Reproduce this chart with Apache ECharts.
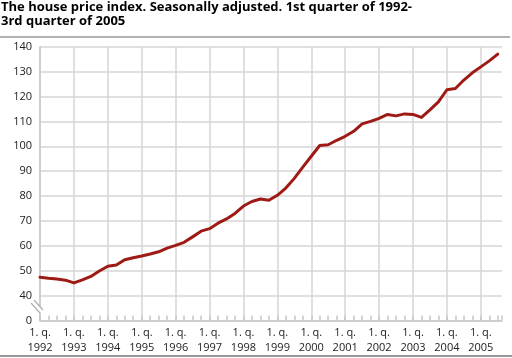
<!DOCTYPE html>
<html>
<head>
<meta charset="utf-8">
<script src="https://cdn.jsdelivr.net/npm/echarts@6/dist/echarts.min.js"></script>
<style>
html,body{margin:0;padding:0;background:#fff;}
#chart{width:512px;height:358px;}
</style>
</head>
<body>
<div id="chart"></div>
<script>
// Data
var years = ['1992','1993','1994','1995','1996','1997','1998','1999','2000','2001','2002','2003','2004','2005'];
var quarterLabel = '1. q.';
var yTicks = [0, 40, 50, 60, 70, 80, 90, 100, 110, 120, 130, 140];
var houseIndex = [
  47.4, 47.0, 46.7, 46.2,
  45.1, 46.3, 47.7, 49.9,
  51.8, 52.3, 54.4, 55.2,
  55.9, 56.7, 57.6, 59.1,
  60.2, 61.4, 63.6, 65.9,
  66.9, 69.1, 70.8, 73.0,
  76.0, 77.8, 78.8, 78.3,
  80.3, 83.2, 87.1, 91.6,
  96.0, 100.3, 100.6, 102.4,
  104.0, 106.0, 109.0, 110.0,
  111.2, 112.8, 112.2, 113.0,
  112.8, 111.6, 114.6, 117.8,
  122.7, 123.2, 126.6, 129.5,
  131.9, 134.3, 137.0
];
var titleText = 'The house price index. Seasonally adjusted. 1st quarter of 1992-\n3rd quarter of 2005';

var seriesData = houseIndex.map(function (v, i) { return [i, v]; });

var chart = echarts.init(document.getElementById('chart'), null, {renderer: 'canvas'});
var gridCol = '#d6d6d6';
var txtCol = '#222';
var fontFam = '"Open Sans", sans-serif';

chart.setOption({
  animation: false,
  backgroundColor: '#fff',
  title: {
    text: titleText,
    left: 1,
    top: 0,
    padding: 0,
    textStyle: {fontFamily: fontFam, fontWeight: 'bold', fontSize: 13, color: '#000', lineHeight: 14}
  },
  grid: {left: 40, right: 10, top: 46.7, bottom: 37.5, containLabel: false},
  xAxis: {
    type: 'value',
    min: 0,
    max: 54.5,
    interval: 4,
    axisLine: {show: true, lineStyle: {color: '#c8c8c8', width: 1.5}},
    axisTick: {show: true, inside: true, length: 5, lineStyle: {color: '#c8c8c8', width: 1.5}},
    minorTick: {show: true, splitNumber: 4, length: 5, lineStyle: {color: '#c8c8c8', width: 1.5}},
    splitLine: {show: true, showMaxLine: false, lineStyle: {color: gridCol, width: 1.5}},
    axisLabel: {
      margin: 5,
      color: txtCol,
      fontFamily: fontFam,
      fontSize: 11,
      lineHeight: 15,
      showMaxLabel: false,
      formatter: function (v) {
        if (v % 4 !== 0) return '';
        var y = years[v / 4];
        return y ? quarterLabel + '\n' + y : '';
      }
    }
  },
  yAxis: {
    type: 'value',
    min: 30,
    max: 140,
    interval: 10,
    axisLine: {show: true, lineStyle: {color: '#c8c8c8', width: 1.5}},
    axisTick: {show: false},
    splitLine: {show: true, lineStyle: {color: gridCol, width: 1.5}},
    axisLabel: {
      margin: 8,
      color: txtCol,
      fontFamily: fontFam,
      fontSize: 11,
      formatter: function (v) {
        if (v === 30) return String(yTicks[0]);
        return yTicks.indexOf(v) >= 0 ? String(v) : '';
      }
    }
  },
  series: [{
    type: 'line',
    data: seriesData,
    symbol: 'none',
    smooth: false,
    lineStyle: {color: '#9e1a14', width: 3, cap: 'round', join: 'round'},
    z: 5
  }],
  graphic: [
    {type: 'line', shape: {x1: 0, y1: 37, x2: 510, y2: 37}, style: {stroke: '#9a9a9a', lineWidth: 1.5}, silent: true},
    {type: 'line', shape: {x1: 0, y1: 356, x2: 512, y2: 356}, style: {stroke: '#777', lineWidth: 1.5}, silent: true},
    {type: 'polygon', shape: {points: [[34, 300], [43, 310], [40, 313], [31, 303]]}, style: {fill: '#fff'}, silent: true, z: 10},
    {type: 'line', shape: {x1: 34, y1: 300, x2: 43, y2: 310}, style: {stroke: '#b0b0b0', lineWidth: 1.2}, silent: true, z: 11},
    {type: 'line', shape: {x1: 31, y1: 303, x2: 40, y2: 313}, style: {stroke: '#b0b0b0', lineWidth: 1.2}, silent: true, z: 11}
  ]
});
</script>
</body>
</html>
